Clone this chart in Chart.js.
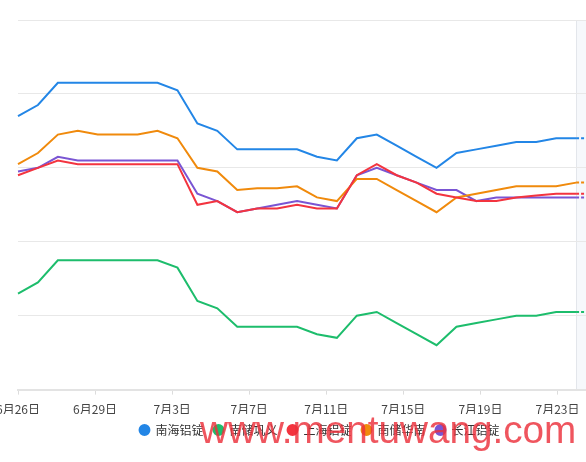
<!DOCTYPE html>
<html>
<head>
<meta charset="utf-8">
<script src="https://cdn.jsdelivr.net/npm/chart.js@4.4.1/dist/chart.umd.min.js"></script>
<style>
  html, body { margin: 0; padding: 0; background: #fff; overflow: hidden; }
  body { width: 586px; height: 462px; position: relative; }
  #wrap { position: absolute; left: -40px; top: 0; width: 661px; height: 462px; }
  #mark {
    position: absolute; left: 200px; top: 411px;
    font: 38.7px 'Liberation Sans', Arial, sans-serif; line-height: 38px;
    color: rgba(236, 48, 58, 0.82); white-space: nowrap; pointer-events: none;
  }
</style>
</head>
<body>
<div id="wrap"><canvas id="priceChart"></canvas></div>
<div id="mark">www.mentuwang.com</div>
<script>
// daily categories (last one is the dashed continuation past the marker line)
const days = [
  '6月26日', '6月27日', '6月28日', '6月29日', '6月30日', '7月1日', '7月2日', '7月3日',
  '7月4日', '7月5日', '7月6日', '7月7日', '7月8日', '7月9日', '7月10日', '7月11日',
  '7月12日', '7月13日', '7月14日', '7月15日', '7月16日', '7月17日', '7月18日', '7月19日',
  '7月20日', '7月21日', '7月22日', '7月23日', '7月24日', '7月25日'
];
// labels shown under the axis
const tickLabels = ['6月26日', '6月29日', '7月3日', '7月7日', '7月11日', '7月15日', '7月19日', '7月23日'];

const seriesNames = ['南海铝锭', '南储巩义', '上海铝锭', '南储华南', '长江铝锭'];
const seriesColors = ['#2386e6', '#1dbd6c', '#f3343f', '#f08a0c', '#7a55d3'];

const nanhai = [18740, 18770, 18830, 18830, 18830, 18830, 18830, 18830, 18810, 18720, 18700, 18650, 18650, 18650, 18650,
  18630, 18620, 18680, 18690, 18660, 18630, 18600, 18640, 18650, 18660, 18670, 18670, 18680, 18680, 18680];
const gongyi = [18260, 18290, 18350, 18350, 18350, 18350, 18350, 18350, 18330, 18240, 18220, 18170, 18170, 18170, 18170,
  18150, 18140, 18200, 18210, 18180, 18150, 18120, 18170, 18180, 18190, 18200, 18200, 18210, 18210, 18210];
const shanghai = [18580, 18600, 18620, 18610, 18610, 18610, 18610, 18610, 18610, 18500, 18510, 18480, 18490, 18490, 18500,
  18490, 18490, 18580, 18610, 18580, 18560, 18530, 18520, 18510, 18510, 18520, 18525, 18530, 18530, 18530];
const huanan = [18610, 18640, 18690, 18700, 18690, 18690, 18690, 18700, 18680, 18600, 18590, 18540, 18545, 18545, 18550,
  18520, 18510, 18570, 18570, 18540, 18510, 18480, 18520, 18530, 18540, 18550, 18550, 18550, 18560, 18560];
const changjiang = [18590, 18600, 18630, 18620, 18620, 18620, 18620, 18620, 18620, 18530, 18510, 18480, 18490, 18500, 18510,
  18500, 18490, 18580, 18600, 18580, 18560, 18540, 18540, 18510, 18520, 18520, 18520, 18520, 18520, 18520];

const allSeries = [nanhai, gongyi, shanghai, huanan, changjiang];
const lastIndex = days.length - 2; // last real point, dashed after it

// light band + divider after the last real point
const futureShade = {
  id: 'futureShade',
  beforeDraw(chart) {
    const { ctx, chartArea, scales } = chart;
    const x0 = Math.round(scales.x.getPixelForValue(lastIndex));
    ctx.save();
    ctx.fillStyle = '#f6f8fb';
    ctx.fillRect(x0, chartArea.top, chartArea.right - x0, chartArea.bottom - chartArea.top);
    ctx.strokeStyle = '#e3e6eb';
    ctx.lineWidth = 1;
    ctx.beginPath();
    ctx.moveTo(x0 + 0.5, chartArea.top);
    ctx.lineTo(x0 + 0.5, chartArea.bottom);
    ctx.stroke();
    ctx.restore();
  }
};

Chart.defaults.font.family = "'Noto Sans CJK SC', 'Noto Sans', sans-serif";
Chart.defaults.font.size = 12;

const ctx = document.getElementById('priceChart').getContext('2d');
new Chart(ctx, {
  type: 'line',
  data: {
    labels: days,
    datasets: allSeries.map((values, i) => ({
      label: seriesNames[i],
      data: values,
      borderColor: seriesColors[i],
      backgroundColor: seriesColors[i],
      borderWidth: 2,
      pointRadius: 0,
      pointHoverRadius: 0,
      tension: 0,
      segment: {
        borderDash: (c) => (c.p0DataIndex >= lastIndex ? [3, 2] : undefined)
      }
    }))
  },
  plugins: [futureShade],
  options: {
    responsive: true,
    maintainAspectRatio: false,
    animation: false,
    layout: { padding: { left: 58, right: 0, top: 20, bottom: 16 } },
    plugins: {
      legend: {
        position: 'bottom',
        labels: {
          usePointStyle: true,
          pointStyle: 'circle',
          boxWidth: 10,
          boxHeight: 7,
          padding: 10,
          color: '#333'
        }
      },
      tooltip: { enabled: false }
    },
    scales: {
      x: { type: 'category', display: false },
      xt: {
        type: 'linear',
        position: 'bottom',
        min: 0,
        max: 30,
        grid: { drawOnChartArea: false, color: '#dcdcdc', tickLength: 5 },
        border: { color: '#e3e3e3', width: 2 },
        ticks: {
          stepSize: 4,
          includeBounds: false,
          autoSkip: false,
          maxRotation: 0,
          padding: 8,
          color: '#444',
          callback: (v) => tickLabels[v / 4]
        },
        // let the legend sit closer to the date labels
        afterFit: (scale) => { scale.height -= 11; }
      },
      y: {
        min: 18000,
        max: 19000,
        ticks: { display: false, stepSize: 200 },
        grid: { color: '#e8e8e8', drawTicks: false },
        border: { display: false }
      },
      yr: {
        type: 'linear',
        position: 'right',
        ticks: { display: false },
        grid: { display: false },
        border: { display: false },
        afterFit: (scale) => { scale.width = 25; }
      }
    }
  }
});
</script>
</body>
</html>
